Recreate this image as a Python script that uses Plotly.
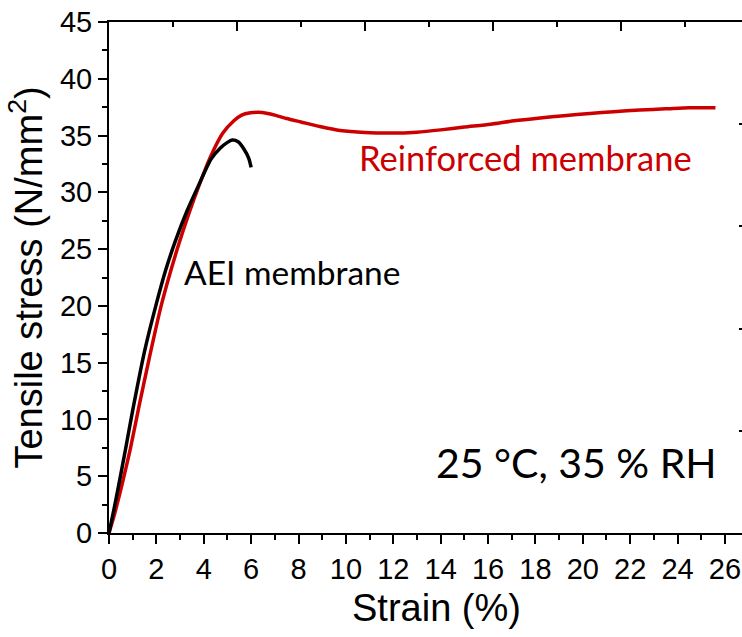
import plotly.graph_objects as go

# AEI membrane (black)
aei_strain = [0, 0.2, 0.4, 0.7, 1.0, 1.5, 2.0, 2.4, 2.8, 3.3, 3.8, 4.3, 4.7, 5.0, 5.2, 5.45, 5.7, 5.9, 6.0]
aei_stress = [0, 2.0, 4.1, 7.4, 10.8, 16.0, 20.2, 23.2, 25.7, 28.4, 30.7, 32.9, 33.9, 34.4, 34.6, 34.45, 33.8, 33.0, 32.2]

# Reinforced membrane (red)
rf_strain = [0, 0.2, 0.4, 0.6, 0.9, 1.27, 1.7, 2.2, 2.88, 3.4, 3.8, 4.3, 4.8, 5.27, 5.6, 5.97, 6.3, 6.7, 7.0,
             7.5, 8.1, 8.9, 9.76, 10.8, 11.9, 13.0, 14.0, 15.0, 16.1, 17.1, 18.2, 19.2, 20.3, 21.3, 22.4, 23.5,
             24.5, 25.6]
rf_stress = [0, 1.4, 3.0, 4.7, 7.4, 11.2, 15.4, 20.0, 25.0, 28.3, 30.6, 33.2, 35.2, 36.3, 36.8, 37.0, 37.05,
             36.95, 36.8, 36.5, 36.2, 35.8, 35.45, 35.27, 35.22, 35.3, 35.5, 35.75, 36.0, 36.3, 36.55, 36.75,
             36.95, 37.1, 37.25, 37.35, 37.45, 37.45]

x_range = [0, 26.72]
y_range = [0, 45]
top_major = [5.4, 10.8, 16.2, 21.6]
top_minor = [2.7, 8.1, 13.5, 18.9, 24.3]
right_ticks = [9, 18, 27, 36]

RED = "#CC0000"
TICKFONT = dict(family="Liberation Sans, Arial", size=29, color="black")

fig = go.Figure()
fig.add_trace(go.Scatter(x=rf_strain, y=rf_stress, mode="lines",
                         line=dict(color=RED, width=3.5, shape="spline", smoothing=0.6), showlegend=False))
fig.add_trace(go.Scatter(x=aei_strain, y=aei_stress, mode="lines",
                         line=dict(color="black", width=3.5, shape="spline", smoothing=0.6), showlegend=False))
fig.add_trace(go.Scatter(x=[None], y=[None], xaxis="x2", yaxis="y2", showlegend=False))

fig.update_layout(
    width=742, height=637,
    margin=dict(l=109, r=0, t=22, b=104),
    plot_bgcolor="white", paper_bgcolor="white",
    xaxis=dict(range=x_range, dtick=2, tick0=0, ticks="outside", ticklen=9, tickwidth=2, tickcolor="black",
               showline=True, linewidth=2, linecolor="black", showgrid=False, zeroline=False,
               tickfont=TICKFONT,
               minor=dict(dtick=1, ticks="outside", ticklen=5, tickwidth=2, tickcolor="black", showgrid=False)),
    yaxis=dict(range=y_range, dtick=5, tick0=0, ticks="outside", ticklen=9, tickwidth=2, tickcolor="black",
               showline=True, linewidth=2, linecolor="black", showgrid=False, zeroline=False,
               tickfont=TICKFONT,
               minor=dict(dtick=2.5, ticks="outside", ticklen=5, tickwidth=2, tickcolor="black", showgrid=False),
               title=dict(text="Tensile stress (N/mm<sup>2</sup>)",
                          font=dict(family="Liberation Sans, Arial", size=38, color="black"), standoff=6)),
    xaxis2=dict(overlaying="x", side="top", range=x_range, tickvals=top_major, ticks="inside", ticklen=9,
                tickwidth=2, tickcolor="black", showticklabels=False, showline=True, linewidth=2,
                linecolor="black", showgrid=False, zeroline=False,
                minor=dict(tickvals=top_minor, ticks="inside", ticklen=5, tickwidth=2, tickcolor="black",
                           showgrid=False)),
    yaxis2=dict(overlaying="y", side="right", range=y_range, tickvals=right_ticks, ticks="inside", ticklen=3,
                tickwidth=2, tickcolor="black", showticklabels=False, showline=False, showgrid=False,
                zeroline=False),
)

# (text, x px, y px, font family, size, colour, xanchor)
labels = [
    ("Reinforced membrane", 357, 157, "Lato", 34.5, RED, "left"),
    ("AEI membrane", 182, 272, "Lato", 33.5, "black", "left"),
    ("25 °C, 35 % RH", 434, 462, "Lato", 41, "black", "left"),
    ("Strain (%)", 437, 608, "Liberation Sans, Arial", 38, "black", "center"),
]

pl, pt, pw, ph = 109, 22, 742 - 109 - 0, 637 - 22 - 104
for text, px, py, fam, size, col, xa in labels:
    fig.add_annotation(text=text, x=(px - pl) / pw, y=1 - (py - pt) / ph, xref="paper", yref="paper",
                       showarrow=False, font=dict(family=fam, size=size, color=col),
                       xanchor=xa, yanchor="middle")

fig.write_html("out.html")
